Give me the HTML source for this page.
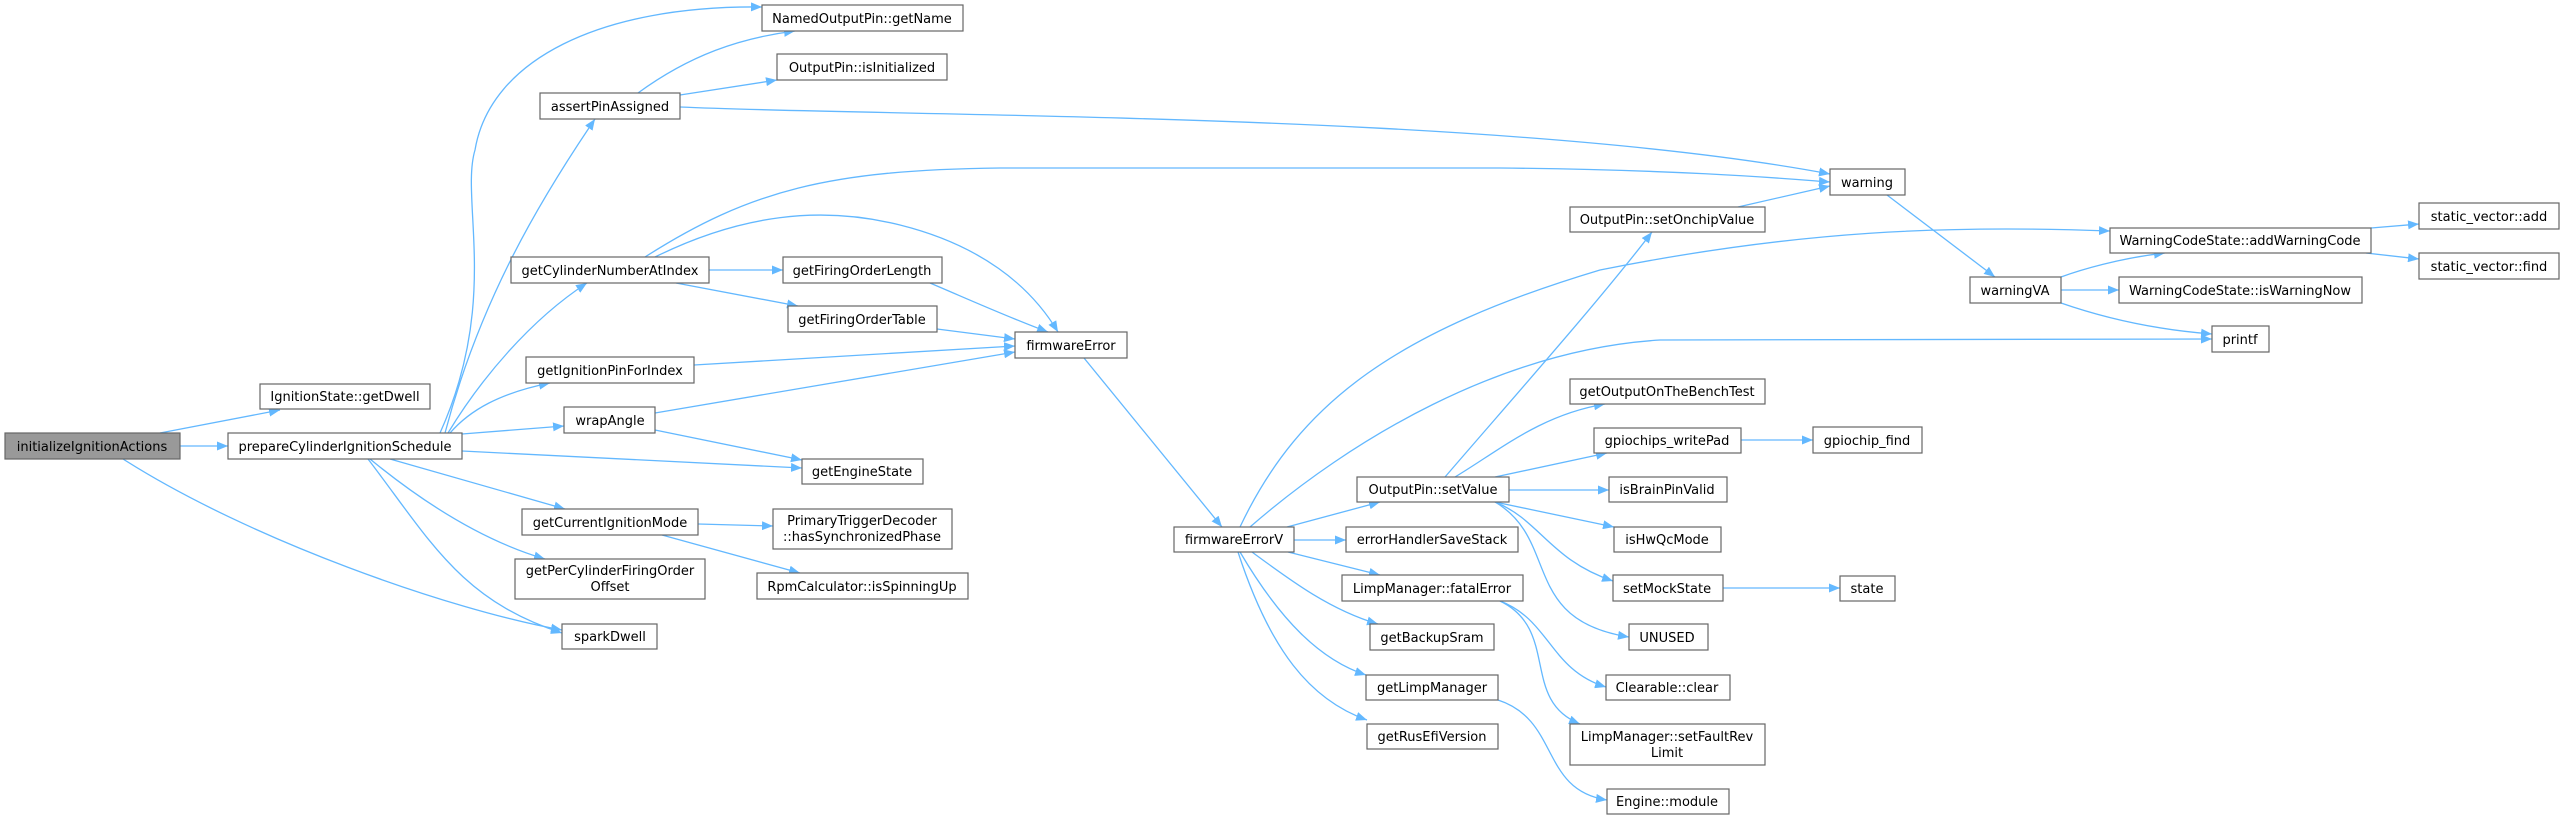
<!DOCTYPE html>
<html><head><meta charset="utf-8"><style>
html,body{margin:0;padding:0;background:#fff;}
svg{display:block;}
text{font-family:"DejaVu Sans","Liberation Sans",sans-serif;font-size:13px;fill:#000;}
.n{fill:#fff;stroke:#666;stroke-width:1.2;}
.r{fill:#999;stroke:#666;stroke-width:1.2;}
.e{fill:none;stroke:#63b8ff;stroke-width:1.3;}
</style></head><body>
<svg width="2560" height="820" viewBox="0 0 2560 820" xmlns="http://www.w3.org/2000/svg">
<defs><marker id="a" markerUnits="userSpaceOnUse" markerWidth="12" markerHeight="9" refX="11" refY="4.5" orient="auto"><path d="M0,0 L11,4.5 L0,9 z" fill="#63b8ff"/></marker></defs>
<g marker-end="url(#a)">
<path class="e" d="M160,433 L280,410"/>
<path class="e" d="M180,446 L228,446"/>
<path class="e" d="M123,459 C250,540 450,610 562,630"/>
<path class="e" d="M440,433 C500,300 460,200 475,150 C490,60 600,5 762,7"/>
<path class="e" d="M445,433 C480,300 540,200 595,119"/>
<path class="e" d="M448,433 C480,380 530,320 587,283"/>
<path class="e" d="M450,433 C470,410 500,393 550,383"/>
<path class="e" d="M462,434 L564,426"/>
<path class="e" d="M462,451 L802,468"/>
<path class="e" d="M390,459 L565,509"/>
<path class="e" d="M370,459 C420,500 480,540 545,559"/>
<path class="e" d="M368,459 C430,540 460,600 562,633"/>
<path class="e" d="M638,93 C690,55 740,38 795,31"/>
<path class="e" d="M680,95 L777,80"/>
<path class="e" d="M680,107 C900,117 1500,112 1830,174"/>
<path class="e" d="M645,257 C750,190 830,170 1000,168 L1500,168 C1700,170 1800,180 1830,182"/>
<path class="e" d="M655,257 C740,215 820,205 900,225 C980,245 1030,285 1058,332"/>
<path class="e" d="M709,270 L783,270"/>
<path class="e" d="M676,283 L798,306"/>
<path class="e" d="M930,283 C970,300 1010,318 1048,332"/>
<path class="e" d="M937,329 L1015,339"/>
<path class="e" d="M694,365 L1015,346"/>
<path class="e" d="M655,413 L1015,352"/>
<path class="e" d="M655,430 L802,460"/>
<path class="e" d="M698,524 L773,526"/>
<path class="e" d="M662,535 L800,573"/>
<path class="e" d="M1084,358 L1222,527"/>
<path class="e" d="M1240,527 C1300,400 1400,330 1600,270 C1800,230 1950,225 2110,231"/>
<path class="e" d="M1250,527 C1350,440 1500,350 1660,340 L2212,339"/>
<path class="e" d="M1287,527 L1380,502"/>
<path class="e" d="M1294,540 L1346,540"/>
<path class="e" d="M1288,552 L1380,575"/>
<path class="e" d="M1252,552 C1290,580 1330,610 1378,624"/>
<path class="e" d="M1240,552 C1280,620 1320,660 1366,675"/>
<path class="e" d="M1238,552 C1270,650 1310,700 1367,720"/>
<path class="e" d="M1445,477 C1520,390 1600,300 1652,232"/>
<path class="e" d="M1738,207 L1830,186"/>
<path class="e" d="M1455,477 C1500,450 1540,415 1605,404"/>
<path class="e" d="M1495,477 L1607,453"/>
<path class="e" d="M1509,490 L1609,490"/>
<path class="e" d="M1495,502 L1614,527"/>
<path class="e" d="M1495,502 C1540,520 1550,560 1613,581"/>
<path class="e" d="M1495,502 C1560,540 1520,620 1629,637"/>
<path class="e" d="M1500,601 C1550,620 1550,670 1606,687"/>
<path class="e" d="M1500,601 C1560,630 1520,700 1580,724"/>
<path class="e" d="M1498,700 C1560,720 1540,790 1607,800"/>
<path class="e" d="M1741,440 L1813,440"/>
<path class="e" d="M1723,588 L1840,588"/>
<path class="e" d="M1887,195 L1995,277"/>
<path class="e" d="M2061,277 C2080,270 2120,258 2165,253"/>
<path class="e" d="M2061,290 L2119,290"/>
<path class="e" d="M2061,303 C2110,320 2160,330 2212,334"/>
<path class="e" d="M2371,228 L2419,224"/>
<path class="e" d="M2366,253 L2419,259"/>
</g>
<g text-anchor="middle">
<rect class="r" x="5" y="433" width="175" height="26"/><text x="92" y="451">initializeIgnitionActions</text>
<rect class="n" x="260" y="384" width="170" height="25"/><text x="345" y="401">IgnitionState::getDwell</text>
<rect class="n" x="228" y="433" width="234" height="26"/><text x="345" y="451">prepareCylinderIgnitionSchedule</text>
<rect class="n" x="762" y="5" width="201" height="26"/><text x="862" y="23">NamedOutputPin::getName</text>
<rect class="n" x="777" y="54" width="170" height="26"/><text x="862" y="72">OutputPin::isInitialized</text>
<rect class="n" x="540" y="93" width="140" height="26"/><text x="610" y="111">assertPinAssigned</text>
<rect class="n" x="511" y="257" width="198" height="26"/><text x="610" y="275">getCylinderNumberAtIndex</text>
<rect class="n" x="783" y="257" width="159" height="26"/><text x="862" y="275">getFiringOrderLength</text>
<rect class="n" x="788" y="306" width="149" height="26"/><text x="862" y="324">getFiringOrderTable</text>
<rect class="n" x="526" y="357" width="168" height="26"/><text x="610" y="375">getIgnitionPinForIndex</text>
<rect class="n" x="564" y="407" width="91" height="26"/><text x="610" y="425">wrapAngle</text>
<rect class="n" x="802" y="459" width="121" height="25"/><text x="862" y="476">getEngineState</text>
<rect class="n" x="522" y="509" width="176" height="26"/><text x="610" y="527">getCurrentIgnitionMode</text>
<rect class="n" x="773" y="509" width="179" height="40"/><text x="862" y="525">PrimaryTriggerDecoder</text><text x="862" y="541">::hasSynchronizedPhase</text>
<rect class="n" x="515" y="559" width="190" height="40"/><text x="610" y="575">getPerCylinderFiringOrder</text><text x="610" y="591">Offset</text>
<rect class="n" x="757" y="573" width="211" height="26"/><text x="862" y="591">RpmCalculator::isSpinningUp</text>
<rect class="n" x="562" y="624" width="95" height="25"/><text x="610" y="641">sparkDwell</text>
<rect class="n" x="1015" y="332" width="112" height="26"/><text x="1071" y="350">firmwareError</text>
<rect class="n" x="1174" y="527" width="120" height="25"/><text x="1234" y="544">firmwareErrorV</text>
<rect class="n" x="1570" y="207" width="195" height="25"/><text x="1667" y="224">OutputPin::setOnchipValue</text>
<rect class="n" x="1570" y="379" width="195" height="25"/><text x="1667" y="396">getOutputOnTheBenchTest</text>
<rect class="n" x="1594" y="428" width="147" height="25"/><text x="1667" y="445">gpiochips_writePad</text>
<rect class="n" x="1357" y="477" width="152" height="25"/><text x="1433" y="494">OutputPin::setValue</text>
<rect class="n" x="1609" y="477" width="118" height="25"/><text x="1667" y="494">isBrainPinValid</text>
<rect class="n" x="1346" y="527" width="172" height="25"/><text x="1432" y="544">errorHandlerSaveStack</text>
<rect class="n" x="1614" y="527" width="107" height="25"/><text x="1667" y="544">isHwQcMode</text>
<rect class="n" x="1342" y="575" width="181" height="26"/><text x="1432" y="593">LimpManager::fatalError</text>
<rect class="n" x="1613" y="575" width="110" height="26"/><text x="1667" y="593">setMockState</text>
<rect class="n" x="1370" y="624" width="124" height="26"/><text x="1432" y="642">getBackupSram</text>
<rect class="n" x="1629" y="624" width="79" height="26"/><text x="1667" y="642">UNUSED</text>
<rect class="n" x="1366" y="675" width="132" height="25"/><text x="1432" y="692">getLimpManager</text>
<rect class="n" x="1606" y="675" width="124" height="25"/><text x="1667" y="692">Clearable::clear</text>
<rect class="n" x="1367" y="724" width="131" height="25"/><text x="1432" y="741">getRusEfiVersion</text>
<rect class="n" x="1570" y="724" width="195" height="41"/><text x="1667" y="741">LimpManager::setFaultRev</text><text x="1667" y="757">Limit</text>
<rect class="n" x="1607" y="789" width="122" height="25"/><text x="1667" y="806">Engine::module</text>
<rect class="n" x="1830" y="169" width="75" height="26"/><text x="1867" y="187">warning</text>
<rect class="n" x="1813" y="427" width="109" height="26"/><text x="1867" y="445">gpiochip_find</text>
<rect class="n" x="1840" y="576" width="55" height="25"/><text x="1867" y="593">state</text>
<rect class="n" x="1970" y="277" width="91" height="26"/><text x="2015" y="295">warningVA</text>
<rect class="n" x="2110" y="228" width="261" height="25"/><text x="2240" y="245">WarningCodeState::addWarningCode</text>
<rect class="n" x="2119" y="277" width="243" height="26"/><text x="2240" y="295">WarningCodeState::isWarningNow</text>
<rect class="n" x="2212" y="326" width="57" height="26"/><text x="2240" y="344">printf</text>
<rect class="n" x="2419" y="203" width="140" height="26"/><text x="2489" y="221">static_vector::add</text>
<rect class="n" x="2419" y="253" width="140" height="26"/><text x="2489" y="271">static_vector::find</text>
</g>
</svg>
</body></html>
